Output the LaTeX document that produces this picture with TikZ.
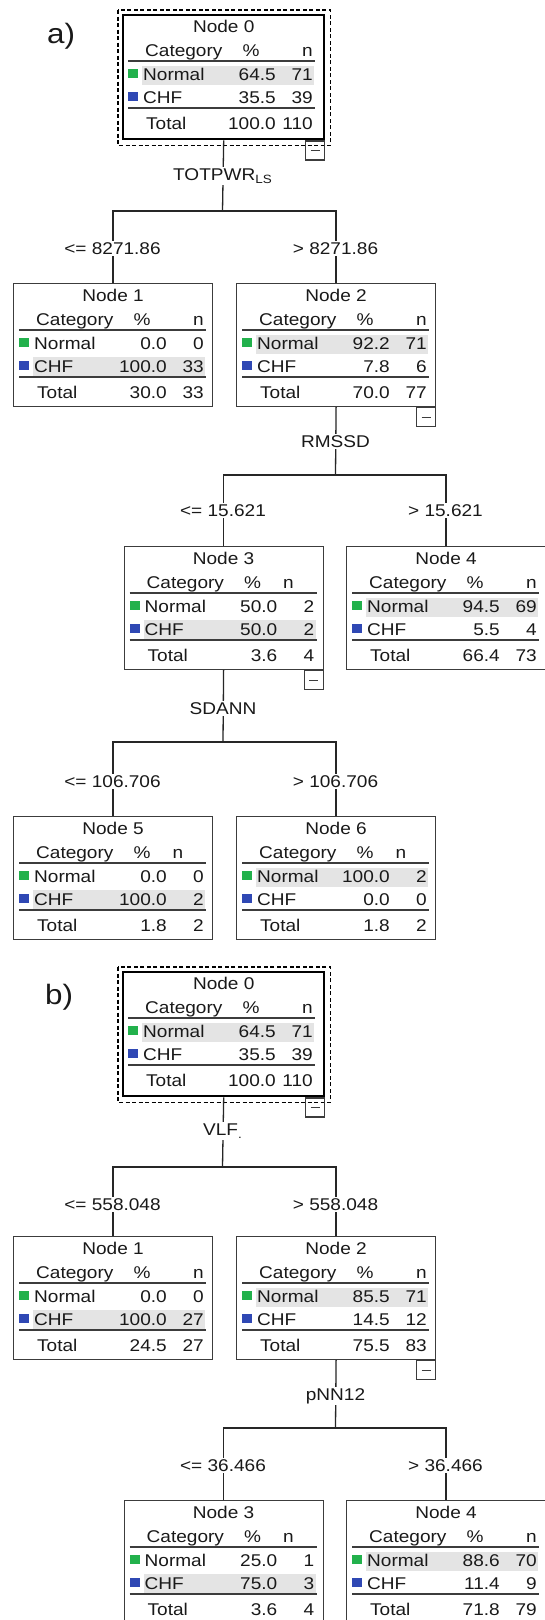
\documentclass[tikz,border=0pt]{standalone}
\usepackage{fontspec}
\setmainfont{Liberation Sans}[FakeStretch=1.12]
\usetikzlibrary{calc}

\definecolor{catgreen}{RGB}{34,177,76}
\definecolor{catblue}{RGB}{47,72,180}
\definecolor{rowgray}{RGB}{228,228,228}
\definecolor{boxgray}{RGB}{60,60,60}
\definecolor{textcol}{RGB}{25,25,25}

\tikzset{
  treebox/.style={draw=boxgray, line width=1.2pt, minimum width=199pt, minimum height=123pt, inner sep=0pt},
  rootbox/.style={draw=black, line width=2.4pt, minimum width=201pt, minimum height=124pt},
  rootframe/.style={draw=black, line width=1.4pt, dash pattern=on 4pt off 2.5pt},
  minusbox/.style={draw=boxgray, line width=1.2pt, minimum size=19pt, inner sep=0pt, anchor=north east,
    path picture={\draw[boxgray, line width=1.2pt] ([xshift=5pt]path picture bounding box.west) -- ([xshift=-5pt]path picture bounding box.east);}},
  conn/.style={draw=black!85, line width=1.3pt},
  cut/.style={fill=white, inner sep=1.5pt},
  cell/.style={inner sep=0pt},
  rule/.style={draw=boxgray, line width=1.1pt},
  dblrule/.style={draw=boxgray, line width=2pt},
  tag/.style={inner sep=0pt, anchor=base west, font=\fontsize{28}{30}\selectfont}
}

% one node of the tree: [style]{name}{top left}{number}{normal %}{normal n}{chf %}{chf n}{total %}
\newcommand{\treebox}[9][]{%
  \node[treebox, #1, anchor=north west] (#2) at (#3) {};
  \pgfmathtruncatemacro{\totn}{#6+#8}%
  \pgfmathsetmacro{\hlrow}{#5>#7 ? 66.5 : 89}%
  \begin{scope}[shift={(#2.north west)}]
    \fill[rowgray] (20,\hlrow-15) rectangle (192,\hlrow+4);
    \node[cell, anchor=base] (#2-title) at ([yshift=-18pt]#2.north) {Node #4};
    \node[cell, anchor=base west] (#2-cat) at (23,42.5) {Category};
    \node[cell, anchor=base] (#2-pct) at (129,42.5) {\%};
    \ifnum\totn<10
      \node[cell, anchor=base] (#2-n) at (165,42.5) {n};
    \else
      \node[cell, anchor=base east] (#2-n) at (191,42.5) {n};
    \fi
    \draw[rule] (6,47) -- (193,47);
    \fill[catgreen] (6,55) rectangle (16,64);
    \node[cell, anchor=base west] (#2-r1) at (21,66.5) {Normal};
    \node[cell, anchor=base east] (#2-r1p) at (154,66.5) {#5};
    \node[cell, anchor=base east] (#2-r1n) at (191,66.5) {#6};
    \fill[catblue] (6,77.5) rectangle (16,86.5);
    \node[cell, anchor=base west] (#2-r2) at (21,89) {CHF};
    \node[cell, anchor=base east] (#2-r2p) at (154,89) {#7};
    \node[cell, anchor=base east] (#2-r2n) at (191,89) {#8};
    \draw[dblrule] (6,93.5) -- (193,93.5);
    \node[cell, anchor=base west] (#2-r3) at (24,115.5) {Total};
    \node[cell, anchor=base east] (#2-r3p) at (154,115.5) {#9};
    \node[cell, anchor=base east] (#2-r3n) at (191,115.5) {\totn};
  \end{scope}}

\begin{document}
\begin{tikzpicture}[x=1pt, y=-1pt, font=\fontsize{17}{20}\selectfont, text=textcol]
  \useasboundingbox (0,0) rectangle (545,1620);
  \fill[white] (0,0) rectangle (545,1620);

  % tree a
  \node[tag] (taga) at (47,43) {a)};
  \treebox[rootbox]{a0}{122,14}{0}{64.5}{71}{35.5}{39}{100.0}
  \draw[rootframe] ([xshift=-4pt,yshift=4pt]a0.north west) rectangle ([xshift=5pt,yshift=-5pt]a0.south east);
  \node[minusbox] (ma0) at (a0.south east) {};
  \treebox{a1}{13,283}{1}{0.0}{0}{100.0}{33}{30.0}
  \treebox{a2}{236,283}{2}{92.2}{71}{7.8}{6}{70.0}
  \node[minusbox] (ma2) at (a2.south east) {};
  \treebox{a3}{123.5,546}{3}{50.0}{2}{50.0}{2}{3.6}
  \node[minusbox] (ma3) at (a3.south east) {};
  \treebox{a4}{346,546}{4}{94.5}{69}{5.5}{4}{66.4}
  \treebox{a5}{13,816}{5}{0.0}{0}{100.0}{2}{1.8}
  \treebox{a6}{236,816}{6}{100.0}{2}{0.0}{0}{1.8}

  \coordinate (ja0) at (222.5,211);
  \coordinate (ja2) at (335.5,475);
  \coordinate (ja3) at (223,742);
  \draw[conn] (a0.south) -- (ja0);
  \draw[conn] (a1.north) |- (ja0) -| (a2.north);
  \draw[conn] (a2.south) -- (ja2);
  \draw[conn] (a3.north) |- (ja2) -| (a4.north);
  \draw[conn] (a3.south) -- (ja3);
  \draw[conn] (a5.north) |- (ja3) -| (a6.north);

  \node[cut, anchor=base] (sa0) at (222.5,180) {TOTPWR\raisebox{-3pt}{\fontsize{12}{12}\selectfont LS}};
  \node[cut, anchor=base] (la1) at (112.5,254) {<= 8271.86};
  \node[cut, anchor=base] (la2) at (335.5,254) {> 8271.86};
  \node[cut, anchor=base] (sa2) at (335.5,447) {RMSSD};
  \node[cut, anchor=base] (la3) at (223,516) {<= 15.621};
  \node[cut, anchor=base] (la4) at (445.5,516) {> 15.621};
  \node[cut, anchor=base] (sa3) at (223,714) {SDANN};
  \node[cut, anchor=base] (la5) at (112.5,787) {<= 106.706};
  \node[cut, anchor=base] (la6) at (335.5,787) {> 106.706};

  % tree b
  \node[tag] (tagb) at (45,1004) {b)};
  \treebox[rootbox]{b0}{122,971}{0}{64.5}{71}{35.5}{39}{100.0}
  \draw[rootframe] ([xshift=-4pt,yshift=4pt]b0.north west) rectangle ([xshift=5pt,yshift=-5pt]b0.south east);
  \node[minusbox] (mb0) at (b0.south east) {};
  \treebox{b1}{13,1236}{1}{0.0}{0}{100.0}{27}{24.5}
  \treebox{b2}{236,1236}{2}{85.5}{71}{14.5}{12}{75.5}
  \node[minusbox] (mb2) at (b2.south east) {};
  \treebox{b3}{123.5,1500}{3}{25.0}{1}{75.0}{3}{3.6}
  \treebox{b4}{346,1500}{4}{88.6}{70}{11.4}{9}{71.8}

  \coordinate (jb0) at (222.5,1167);
  \coordinate (jb2) at (335.5,1428);
  \draw[conn] (b0.south) -- (jb0);
  \draw[conn] (b1.north) |- (jb0) -| (b2.north);
  \draw[conn] (b2.south) -- (jb2);
  \draw[conn] (b3.north) |- (jb2) -| (b4.north);

  \node[cut, anchor=base] (sb0) at (222.5,1135) {VLF\raisebox{-3pt}{\fontsize{12}{12}\selectfont .}};
  \node[cut, anchor=base] (lb1) at (112.5,1210) {<= 558.048};
  \node[cut, anchor=base] (lb2) at (335.5,1210) {> 558.048};
  \node[cut, anchor=base] (sb2) at (335.5,1400) {pNN12};
  \node[cut, anchor=base] (lb3) at (223,1471) {<= 36.466};
  \node[cut, anchor=base] (lb4) at (445.5,1471) {> 36.466};
\end{tikzpicture}
\end{document}
